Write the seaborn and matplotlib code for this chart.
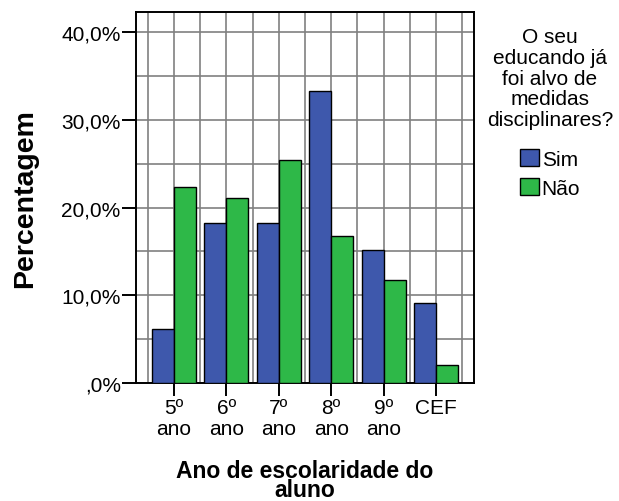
import matplotlib
matplotlib.use("Agg")
import matplotlib.pyplot as plt
import seaborn as sns
import pandas as pd
import numpy as np

categories = ["5º\nano", "6º\nano", "7º\nano", "8º\nano", "9º\nano", "CEF"]
groups = ["Sim", "Não"]
sim_pct = [6.1, 18.2, 18.2, 33.3, 15.2, 9.1]
nao_pct = [22.4, 21.1, 25.4, 16.8, 11.8, 2.0]
y_ticks = [0, 10, 20, 30, 40]

df = pd.DataFrame({
    "ano": categories * 2,
    "grupo": ["Sim"] * len(categories) + ["Não"] * len(categories),
    "pct": sim_pct + nao_pct,
})

sns.set_style("white")
plt.rcParams["font.family"] = ["Liberation Sans", "DejaVu Sans"]
plt.rcParams.update({"text.color": "black", "axes.labelcolor": "black",
                     "xtick.color": "black", "ytick.color": "black"})

fig = plt.figure(figsize=(6.19, 5.02), dpi=100)
ax = fig.add_axes([136 / 619, 1 - 384 / 502, 338 / 619, 371 / 502])

sns.barplot(data=df, x="ano", y="pct", hue="grupo", hue_order=groups,
            order=categories, palette=["#3E58AC", "#2EB848"], width=0.83,
            edgecolor="black", linewidth=1.0, saturation=1, ax=ax, zorder=3)

ax.set_xlim(-0.72, 5.72)
ax.set_ylim(0, 42.3)
ax.set_yticks(y_ticks)
ax.set_yticklabels([",0%" if v == 0 else f"{v:.1f}%".replace(".", ",") for v in y_ticks])
ax.set_yticks(np.arange(5, 42, 10), minor=True)
ax.set_xticks(np.arange(-0.5, 5.6, 1.0), minor=True)
ax.grid(True, which="both", color="#808080", linewidth=1.2)
ax.set_axisbelow(True)
ax.tick_params(which="major", direction="out", length=10, width=1.4, color="black",
               labelsize=15, left=True, bottom=True, pad=1)
ax.tick_params(axis="x", which="major", length=9, pad=2)
for t in ax.get_xticklabels():
    t.set_linespacing(1.1)
ax.tick_params(which="minor", length=0)
for s in ax.spines.values():
    s.set_color("black")
    s.set_linewidth(1.4)

ax.set_ylabel("Percentagem", fontsize=20.5, fontweight="bold")
ax.yaxis.set_label_coords(-0.29, 0.5)
ax.set_xlabel("Ano de escolaridade do\naluno", fontsize=16.5, fontweight="bold",
              linespacing=0.8)
ax.xaxis.set_label_coords(0.5, -0.205)

# legend title drawn separately so the gap to the entries matches
fig.text(550 / 619, 1 - 28 / 502,
         "O seu\neducando já\nfoi alvo de\nmedidas\ndisciplinares?",
         ha="center", va="top", multialignment="center", fontsize=15,
         linespacing=1.12)
h, l = ax.get_legend_handles_labels()
ax.get_legend().remove()
fig.legend(h, l, loc="upper center", bbox_to_anchor=(550 / 619, 1 - 131 / 502),
           frameon=False, fontsize=15,
           handlelength=0.9, handleheight=0.9, handletextpad=0.15,
           labelspacing=0.45)

fig.savefig("out.png", dpi=100)
